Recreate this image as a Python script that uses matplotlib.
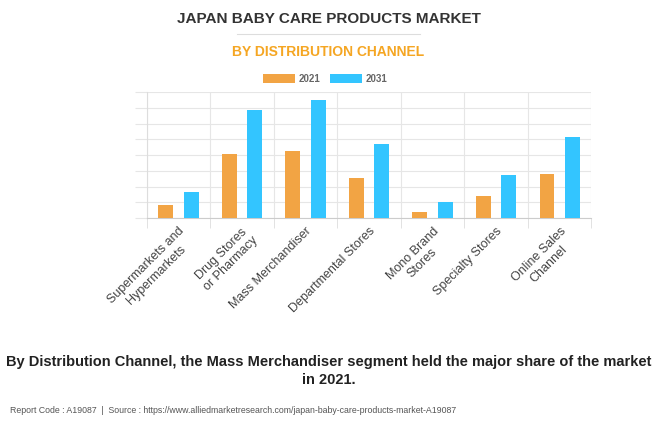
import numpy as np
import matplotlib.pyplot as plt

plt.rcParams["font.family"] = "Liberation Sans"

categories = ["Supermarkets and\nHypermarkets", "Drug Stores\nor Pharmacy", "Mass Merchandiser",
              "Departmental Stores", "Mono Brand\nStores", "Specialty Stores", "Online Sales\nChannel"]
values_2021 = [0.85, 4.04, 4.28, 2.54, 0.40, 1.42, 2.77]
values_2031 = [1.63, 6.86, 7.49, 4.72, 0.99, 2.73, 5.16]

fig = plt.figure(figsize=(6.57, 4.3), dpi=100)
ax = fig.add_axes([0.2233, 0.493, 0.677, 0.293])

x = np.arange(len(categories))
w = 0.235
ax.bar(x - 0.2, values_2021, w, color="#f2a444", label="2021", zorder=3)
ax.bar(x + 0.2, values_2031, w, color="#33c5ff", label="2031", zorder=3)

ax.set_xlim(-0.5, len(categories) - 0.5)
ax.set_ylim(0, 8)
ax.set_yticks(np.arange(0, 9, 1))
ax.set_yticklabels([])
ax.set_xticks(x)
ax.set_xticklabels(categories, rotation=45, ha="right", rotation_mode="anchor",
                   fontsize=9, color="#444444", multialignment="center")
ax.set_xticks(np.arange(-0.5, len(categories), 1), minor=True)
ax.tick_params(axis="x", which="major", length=0, pad=5)
ax.tick_params(axis="x", which="minor", length=7, color="#dddddd")
ax.tick_params(axis="y", length=9, color="#e6e6e6")
ax.grid(axis="y", color="#e6e6e6", linewidth=0.8, zorder=0)
ax.grid(axis="x", which="minor", color="#e6e6e6", linewidth=0.8, zorder=0)
for s in ["top", "right"]:
    ax.spines[s].set_visible(False)
ax.spines["left"].set_color("#dddddd")
ax.spines["bottom"].set_color("#cccccc")

handles, labels = ax.get_legend_handles_labels()
fig.legend(handles, labels, loc="center", bbox_to_anchor=(0.495, 0.817), ncol=2, frameon=False,
           prop={"size": 7, "weight": "bold"}, handlelength=3.3, handleheight=1.1,
           columnspacing=1.0, handletextpad=0.4, labelcolor="#666666")

fig.text(0.5, 0.955, "JAPAN BABY CARE PRODUCTS MARKET", ha="center", va="center",
         fontsize=11, fontweight="bold", color="#333333")
fig.add_artist(plt.Line2D([0.36, 0.64], [0.922, 0.922], color="#dddddd", lw=0.8))
fig.text(0.5, 0.878, "BY DISTRIBUTION CHANNEL", ha="center", va="center",
         fontsize=10, fontweight="bold", color="#f5a623")
fig.text(0.5, 0.137, "By Distribution Channel, the Mass Merchandiser segment held the major share of the market\nin 2021.",
         ha="center", va="center", fontsize=10.5, fontweight="bold", color="#222222", linespacing=1.4)
fig.text(0.015, 0.045, "Report Code : A19087  |  Source : https://www.alliedmarketresearch.com/japan-baby-care-products-market-A19087",
         ha="left", va="center", fontsize=6.3, color="#555555")

fig.savefig("out.png", dpi=100)
